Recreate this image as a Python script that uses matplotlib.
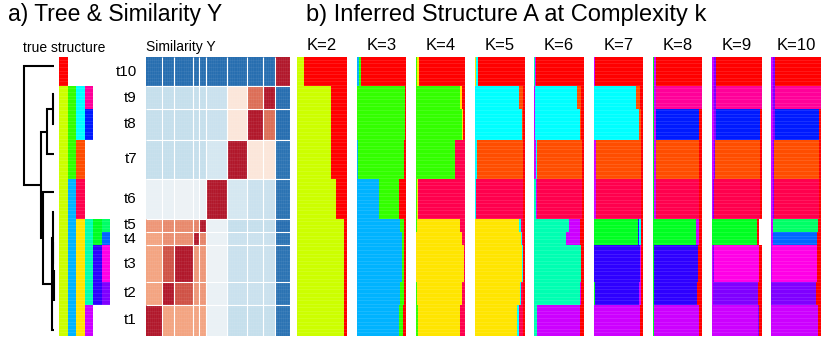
import numpy as np
import matplotlib.pyplot as plt

plt.rcParams['font.family'] = ['Liberation Sans', 'DejaVu Sans']

# ---- colours (R rainbow-like hues) ----
RED = '#FF0000'
PINK = '#FF0099'
CRIMSON = '#FF004D'
ORANGE = '#FF4D00'
YELLOW = '#FFE500'
YGREEN = '#CCFF00'
GREEN = '#33FF00'
LGREEN = '#00FF22'
SPRING = '#00FF66'
AQUA = '#00FFB2'
CYAN = '#00FFFF'
SKY = '#00B3FF'
AZURE = '#0066FF'
BLUE = '#001AFF'
INDIGO = '#2E00FF'
VIOLET = '#7F00FF'
PURPLE = '#CC00FF'
MAGENTA = '#FF00E6'

# ---- data (groups t1..t10) ----
groups = ['t1', 't2', 't3', 't4', 't5', 't6', 't7', 't8', 't9', 't10']
group_sizes = [30, 22, 36, 13, 13, 39, 38, 30, 22, 29]

similarity = [
    [1.00, 0.50, 0.50, 0.50, 0.50, -0.08, -0.30, -0.30, -0.30, -0.92],
    [0.50, 1.00, 0.80, 0.55, 0.55, -0.08, -0.28, -0.28, -0.28, -0.92],
    [0.50, 0.80, 1.00, 0.55, 0.55, -0.06, -0.28, -0.28, -0.28, -0.92],
    [0.50, 0.58, 0.58, 1.00, 0.62, -0.08, -0.28, -0.28, -0.28, -0.92],
    [0.55, 0.60, 0.60, 0.62, 1.00, -0.08, -0.30, -0.30, -0.30, -0.95],
    [-0.08, -0.08, -0.06, -0.08, -0.08, 1.00, -0.22, -0.28, -0.28, -0.92],
    [-0.30, -0.30, -0.30, -0.30, -0.30, -0.22, 1.00, 0.15, 0.15, -0.92],
    [-0.30, -0.30, -0.30, -0.30, -0.30, -0.28, 0.15, 1.00, 0.70, -0.95],
    [-0.30, -0.30, -0.30, -0.30, -0.30, -0.28, 0.15, 0.70, 1.00, -0.95],
    [-0.95, -0.95, -0.95, -0.95, -0.95, -0.95, -0.95, -0.95, -0.95, 1.00],
]

# true structure, one list per level (t1..t10), None = no split at that level
true_level1 = [YGREEN] * 9 + [RED]
true_level2 = [SKY] * 6 + [GREEN] * 3 + [None]
true_level3 = [YELLOW] * 5 + [CRIMSON, ORANGE, CYAN, CYAN, None]
true_level4 = [PURPLE, AQUA, AQUA, AQUA, AQUA, None, None, BLUE, PINK, None]
true_level5 = [None, INDIGO, INDIGO, LGREEN, LGREEN, None, None, None, None, None]
true_level6 = [None, VIOLET, MAGENTA, AZURE, SPRING, None, None, None, None, None]

# dendrogram: leaf positions (rows from top) and merges (child a, child b, height)
leaf_rows = [266.9, 238.6, 208.3, 180.7, 151.7, 131.9, 95.0, 66.0, 36.7, 8.8]
merges = [(8, 7, 1.6), (6, 10, 7.6), (2, 1, 0.8), (3, 12, 1.2), (4, 13, 1.6),
          (14, 0, 2.6), (5, 15, 11.0), (11, 16, 13.3), (9, 17, 30.6)]

# inferred admixture proportions per K (rows t1..t10)
k2_colors = [YGREEN, RED]
k2_props = [[0.95, 0.05], [0.95, 0.05], [0.95, 0.05], [0.95, 0.05], [0.95, 0.05],
            [0.78, 0.22], [0.68, 0.32], [0.68, 0.32], [0.68, 0.32], [0.13, 0.87]]

k3_colors = [SKY, GREEN, RED]
k3_props = [[0.85, 0.09, 0.06], [0.88, 0.07, 0.05], [0.91, 0.05, 0.04], [0.91, 0.05, 0.04],
            [0.87, 0.09, 0.04], [0.45, 0.41, 0.14], [0.02, 0.93, 0.05], [0.0, 0.98, 0.02],
            [0.0, 0.98, 0.02], [0.04, 0.05, 0.91]]

k4_colors = [GREEN, YELLOW, CRIMSON, RED]
k4_props = [[0.05, 0.85, 0.10, 0], [0.03, 0.90, 0.07, 0], [0.01, 0.96, 0.03, 0],
            [0.01, 0.93, 0.06, 0], [0.02, 0.88, 0.10, 0], [0.02, 0.03, 0.95, 0],
            [0.80, 0, 0.20, 0], [0.93, 0.02, 0, 0.05], [0.89, 0.05, 0, 0.06],
            [0.03, 0.04, 0, 0.93]]

k5_colors = [YELLOW, CYAN, ORANGE, CRIMSON, RED]
k5_props = [[0.84, 0.05, 0, 0.08, 0.03], [0.90, 0.03, 0, 0.04, 0.03], [0.95, 0.02, 0, 0, 0.03],
            [0.93, 0.02, 0, 0.02, 0.03], [0.88, 0.04, 0, 0.05, 0.03], [0, 0.02, 0, 0.95, 0.03],
            [0, 0.04, 0.93, 0, 0.03], [0, 0.95, 0.02, 0, 0.03], [0, 0.88, 0.09, 0, 0.03],
            [0.02, 0.03, 0, 0, 0.95]]

k6_colors = [AQUA, PURPLE, CYAN, ORANGE, CRIMSON, RED]
k6_props = [[0.06, 0.86, 0, 0, 0, 0.08], [0.92, 0.02, 0, 0, 0, 0.06], [0.95, 0, 0, 0, 0, 0.05],
            [0.64, 0.29, 0, 0, 0, 0.07], [0.69, 0.23, 0, 0, 0, 0.08], [0.04, 0.01, 0, 0, 0.91, 0.04],
            [0, 0.04, 0.02, 0.90, 0, 0.04], [0, 0.01, 0.92, 0.02, 0, 0.05],
            [0, 0.01, 0.85, 0.08, 0, 0.06], [0.01, 0.03, 0, 0, 0, 0.96]]

k7_colors = [LGREEN, INDIGO, PURPLE, CYAN, ORANGE, CRIMSON, RED]
k7_props = [[0, 0, 0.94, 0, 0, 0, 0.06], [0.02, 0.90, 0.03, 0, 0, 0, 0.05],
            [0, 0.94, 0.02, 0, 0, 0, 0.04], [0.90, 0.02, 0, 0.03, 0, 0, 0.05],
            [0.90, 0.02, 0, 0.04, 0, 0, 0.04], [0, 0, 0.04, 0, 0, 0.92, 0.04],
            [0, 0, 0.05, 0, 0.91, 0, 0.04], [0, 0, 0.01, 0.91, 0.04, 0, 0.04],
            [0, 0, 0.01, 0.85, 0.08, 0, 0.06], [0, 0.01, 0.02, 0, 0, 0, 0.97]]

k8_colors = [LGREEN, PURPLE, INDIGO, BLUE, PINK, ORANGE, CRIMSON, RED]
k8_props = [[0.02, 0.92, 0, 0, 0, 0, 0, 0.06], [0.02, 0, 0.88, 0, 0, 0, 0, 0.10],
            [0.02, 0, 0.90, 0, 0, 0, 0, 0.08], [0.88, 0.05, 0, 0, 0, 0, 0, 0.07],
            [0.88, 0.05, 0, 0, 0, 0, 0, 0.07], [0.02, 0.04, 0, 0, 0, 0, 0.88, 0.06],
            [0.02, 0.04, 0, 0, 0, 0.88, 0, 0.06], [0.02, 0.04, 0, 0.88, 0, 0, 0, 0.06],
            [0.02, 0.05, 0, 0, 0.93, 0, 0, 0], [0.02, 0.05, 0, 0, 0, 0, 0, 0.93]]

k9_colors = [PURPLE, VIOLET, MAGENTA, LGREEN, BLUE, PINK, ORANGE, CRIMSON, RED]
k9_props = [[0.93, 0.02, 0, 0, 0, 0, 0, 0, 0.05], [0.02, 0.91, 0, 0, 0, 0, 0, 0, 0.07],
            [0.02, 0.02, 0.91, 0, 0, 0, 0, 0, 0.05], [0, 0, 0, 0.91, 0, 0, 0, 0, 0.03],
            [0, 0, 0, 0.91, 0, 0, 0, 0, 0.03], [0.02, 0.02, 0, 0, 0, 0, 0, 0.92, 0.04],
            [0.03, 0.03, 0, 0, 0, 0, 0.90, 0, 0.04], [0.03, 0.04, 0, 0, 0.89, 0, 0, 0, 0.04],
            [0.03, 0.04, 0, 0, 0, 0.93, 0, 0, 0], [0.03, 0.04, 0, 0, 0, 0, 0, 0, 0.93]]

k10_colors = [PURPLE, VIOLET, MAGENTA, AZURE, SPRING, BLUE, PINK, ORANGE, CRIMSON, RED]
k10_props = [[0.94, 0, 0, 0, 0, 0, 0, 0, 0, 0.06], [0, 0.90, 0, 0, 0, 0, 0, 0, 0, 0.10],
             [0.02, 0, 0.91, 0, 0, 0, 0, 0, 0, 0.07], [0.03, 0, 0, 0.89, 0, 0, 0, 0, 0, 0.08],
             [0.03, 0, 0, 0, 0.91, 0, 0, 0, 0, 0.06], [0.03, 0.02, 0, 0, 0, 0, 0, 0, 0.91, 0.04],
             [0.03, 0.02, 0, 0, 0, 0, 0, 0.91, 0, 0.04], [0.03, 0.04, 0, 0, 0, 0.90, 0, 0, 0, 0.03],
             [0.03, 0.04, 0, 0, 0, 0, 0.93, 0, 0, 0], [0.03, 0.04, 0, 0, 0, 0, 0, 0, 0, 0.93]]

k_values = [2, 3, 4, 5, 6, 7, 8, 9, 10]
k_colors = [k2_colors, k3_colors, k4_colors, k5_colors, k6_colors,
            k7_colors, k8_colors, k9_colors, k10_colors]
k_props = [k2_props, k3_props, k4_props, k5_props, k6_props,
           k7_props, k8_props, k9_props, k10_props]

# ---- layout helpers ----
W, H = 830, 346
fig = plt.figure(figsize=(W / 100, H / 100), dpi=100)
TOP, BOT = 56.7, 335.5
n_total = sum(group_sizes)


def px_axes(x0, y0, x1, y1):
    ax = fig.add_axes([x0 / W, 1 - y1 / H, (x1 - x0) / W, (y1 - y0) / H])
    ax.set_axis_off()
    ax.set_ylim(n_total, 0)
    return ax


# row start of each group, counted from the top (t10 first)
row_start = {}
pos = 0
for gi in reversed(range(len(groups))):
    row_start[gi] = pos
    pos += group_sizes[gi]


def texture(ax, x0, x1, alpha=0.18):
    # faint lighter lines between sample rows
    ax.hlines(np.arange(3, n_total, 3.5), x0, x1, color='white', lw=0.4, alpha=alpha)


# ---- titles ----
fig.text(8 / W, 1 - 15 / H, 'a) Tree & Similarity Y', fontsize=16.5, ha='left', va='center')
fig.text(306 / W, 1 - 15 / H, 'b) Inferred Structure A at Complexity k', fontsize=17,
         ha='left', va='center')
fig.text(23 / W, 1 - 47.5 / H, 'true structure', fontsize=10, ha='left', va='center')
fig.text(146 / W, 1 - 47.5 / H, 'Similarity Y', fontsize=10, ha='left', va='center')

# ---- dendrogram ----
ax_tree = px_axes(16, TOP, 58, BOT)
ax_tree.set_xlim(54.3 - 16, 54.3 - 58)
node_row = list(leaf_rows)
node_h = [0.0] * len(leaf_rows)
for a, b, h in merges:
    ya, yb = node_row[a], node_row[b]
    ax_tree.plot([node_h[a], h, h, node_h[b]], [ya, ya, yb, yb], color='black',
                 lw=1.5, solid_capstyle='butt', solid_joinstyle='miter')
    node_row.append((ya + yb) / 2)
    node_h.append(h)

# ---- true structure ----
ax_true = px_axes(59.3, TOP, 110, BOT)
ax_true.set_xlim(0, 6)
true_levels = [true_level1, true_level2, true_level3, true_level4, true_level5, true_level6]
for li, level in enumerate(true_levels):
    for gi, col in enumerate(level):
        if col is None:
            continue
        ax_true.barh(row_start[gi], 1, left=li, height=group_sizes[gi], align='edge',
                     color=col, lw=0)
texture(ax_true, 0, 6)

# ---- similarity heatmap ----
ax_hm = px_axes(146, TOP, 290, BOT)
edges = np.concatenate([[0], np.cumsum(group_sizes)])
order_top = list(reversed(range(len(groups))))
y_edges = np.concatenate([[0], np.cumsum([group_sizes[g] for g in order_top])])
sim = np.array(similarity)[order_top, :]
ax_hm.pcolormesh(edges, y_edges, sim, cmap='RdBu_r', vmin=-1.25, vmax=1.25,
                 edgecolors='none', antialiased=False)
ax_hm.set_xlim(0, n_total)
ax_hm.set_ylim(n_total, 0)
# faint cell texture, then white block separators
ax_hm.vlines(np.arange(3, n_total, 4), 0, n_total, color='white', lw=0.4, alpha=0.08)
texture(ax_hm, 0, n_total, alpha=0.1)
ax_hm.vlines(edges[1:-1], 0, n_total, color='white', lw=0.8)
ax_hm.hlines(y_edges[1:-1], 0, n_total, color='white', lw=0.8)
for gi, name in enumerate(groups):
    yc = row_start[gi] + group_sizes[gi] / 2
    ax_hm.annotate(name, xy=(0, yc), xytext=(-6.5, 0), textcoords='offset points',
                   ha='right', va='center', fontsize=11)

# ---- inferred structure panels ----
panel_left = 297.3
panel_step = 59.25
panel_w = 49.6
for i, k in enumerate(k_values):
    x0 = panel_left + i * panel_step
    ax = px_axes(x0, TOP, x0 + panel_w, BOT)
    ax.set_xlim(0, 1)
    cols = k_colors[i]
    props = np.array(k_props[i])
    for gi in range(len(groups)):
        left = 0.0
        for ci, p in enumerate(props[gi]):
            if p > 0:
                ax.barh(row_start[gi], p, left=left, height=group_sizes[gi], align='edge',
                        color=cols[ci], lw=0)
            left += p
    texture(ax, 0, 1)
    ax.annotate(f'K={k}', xy=(0.5, 1), xycoords='axes fraction', xytext=(0, 3),
                textcoords='offset points', ha='center', va='bottom', fontsize=12)

fig.savefig('out.png', dpi=100)
